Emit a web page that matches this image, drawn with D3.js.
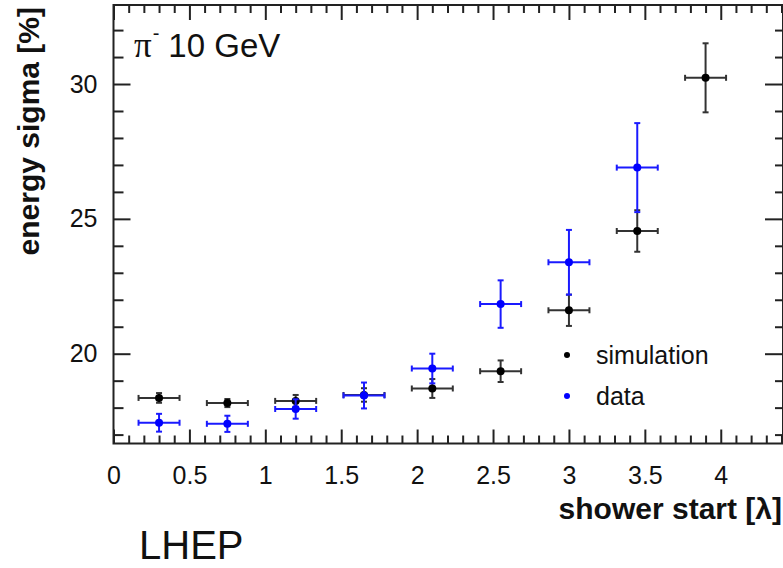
<!DOCTYPE html>
<html>
<head>
<meta charset="utf-8">
<script src="https://cdn.jsdelivr.net/npm/d3@7"></script>
<style>
html, body { margin: 0; padding: 0; background: #fff; }
svg { display: block; }
text { font-family: "Liberation Sans", Arial, Helvetica, sans-serif; }
</style>
</head>
<body>
<svg id="chart" width="783" height="568"></svg>
<script>
// ---- data ----
const showerStart = [0.3, 0.75, 1.2, 1.65, 2.1, 2.55, 3.0, 3.45, 3.9];
const binHalfWidth = [0.135, 0.135, 0.135, 0.135, 0.135, 0.135, 0.135, 0.135, 0.135];
const simSigma = [18.36, 18.17, 18.25, 18.47, 18.71, 19.35, 21.61, 24.55, 30.23];
const simErr   = [0.18, 0.15, 0.22, 0.25, 0.35, 0.40, 0.58, 0.77, 1.28];
const dataSigma = [17.44, 17.40, 17.95, 18.45, 19.45, 21.84, 23.39, 26.90];
const dataErr   = [0.33, 0.30, 0.36, 0.48, 0.55, 0.88, 1.20, 1.65];
const xTickLabels = ["0", "0.5", "1", "1.5", "2", "2.5", "3", "3.5", "4"];
const yTickLabels = ["20", "25", "30"];
const legendLabels = ["simulation", "data"];

// ---- layout ----
const svg = d3.select("#chart");
const L = 113.5, R = 783, T = 5, B = 443.5;
const x = d3.scaleLinear().domain([0, 4.41]).range([L, R]);
const y = d3.scaleLinear().domain([16.67, 32.93]).range([B, T]);
const frameColor = "#222";

const xMajor = xTickLabels.map(Number);
const xMinor = d3.range(0, 4.41, 0.1).map(v => +v.toFixed(2)).filter(v => Math.abs(v * 2 - Math.round(v * 2)) > 1e-6);
const yMajor = yTickLabels.map(Number);
const yMinor = d3.range(17, 33, 1).filter(v => !yMajor.includes(v));

function addAxis(axisGen, transform) {
  const g = svg.append("g").attr("transform", transform).call(axisGen);
  g.select(".domain").remove();
  g.selectAll("line").attr("stroke", frameColor).attr("stroke-width", 2);
  return g;
}
addAxis(d3.axisTop(x).tickValues(xMajor).tickSize(14).tickFormat(""), `translate(0,${B})`);
addAxis(d3.axisTop(x).tickValues(xMinor).tickSize(8).tickFormat(""), `translate(0,${B})`);
addAxis(d3.axisBottom(x).tickValues(xMajor).tickSize(15).tickFormat(""), `translate(0,${T})`);
addAxis(d3.axisBottom(x).tickValues(xMinor).tickSize(8).tickFormat(""), `translate(0,${T})`);
addAxis(d3.axisRight(y).tickValues(yMajor).tickSize(17).tickFormat(""), `translate(${L},0)`);
addAxis(d3.axisRight(y).tickValues(yMinor).tickSize(10).tickFormat(""), `translate(${L},0)`);
addAxis(d3.axisLeft(y).tickValues(yMajor).tickSize(18).tickFormat(""), `translate(${R},0)`);
addAxis(d3.axisLeft(y).tickValues(yMinor).tickSize(8).tickFormat(""), `translate(${R},0)`);

svg.append("rect").attr("x", L).attr("y", T).attr("width", R - L).attr("height", B - T)
  .attr("fill", "none").attr("stroke", frameColor).attr("stroke-width", 2);

// tick labels
const labelSize = 25;
const xl = d3.axisBottom(x).tickValues(xMajor).tickSize(0).tickFormat((d, i) => xTickLabels[i]).tickPadding(23);
const gx = svg.append("g").attr("transform", `translate(0,${B})`).call(xl);
gx.select(".domain").remove();
gx.selectAll("text").attr("font-size", labelSize).attr("font-family", "Liberation Sans, Arial, sans-serif").attr("fill", "#111");
const yl = d3.axisLeft(y).tickValues(yMajor).tickSize(0).tickFormat((d, i) => yTickLabels[i]).tickPadding(16);
const gy = svg.append("g").attr("transform", `translate(${L},0)`).call(yl);
gy.select(".domain").remove();
gy.selectAll("text").attr("font-size", labelSize).attr("font-family", "Liberation Sans, Arial, sans-serif").attr("fill", "#111");

// axis titles
svg.append("text").attr("x", 782).attr("y", 519).attr("text-anchor", "end")
  .attr("font-size", 30).attr("font-weight", "bold").attr("fill", "#111").text("shower start [λ]");
svg.append("text").attr("transform", `translate(39,${T + 2}) rotate(-90)`).attr("text-anchor", "end")
  .attr("font-size", 30).attr("font-weight", "bold").attr("fill", "#111").text("energy sigma [%]");

// error-bar series
function drawSeries(xs, ys, ex, ey, color, lineColor) {
  const g = svg.append("g");
  const cap = 3;
  ys.forEach((v, i) => {
    const cx = x(xs[i]), cy = y(v);
    const x0 = x(xs[i] - ex[i]), x1 = x(xs[i] + ex[i]);
    const y0 = y(v - ey[i]), y1 = y(v + ey[i]);
    const line = (a, b, c, d) => g.append("line").attr("x1", a).attr("y1", b).attr("x2", c).attr("y2", d)
      .attr("stroke", lineColor).attr("stroke-width", 2);
    line(x0, cy, x1, cy);
    line(cx, y0, cx, y1);
    line(x0, cy - cap, x0, cy + cap);
    line(x1, cy - cap, x1, cy + cap);
    line(cx - cap, y0, cx + cap, y0);
    line(cx - cap, y1, cx + cap, y1);
    g.append("circle").attr("cx", cx).attr("cy", cy).attr("r", 4).attr("fill", color);
  });
}
drawSeries(showerStart, simSigma, binHalfWidth, simErr, "#000", "#333");
drawSeries(showerStart.slice(0, dataSigma.length), dataSigma, binHalfWidth, dataErr, "#0000ff", "#1a1aff");

// legend
const legColors = ["#000", "#0000ff"];
legendLabels.forEach((lab, i) => {
  const ly = 355 + i * 41;
  svg.append("circle").attr("cx", 567).attr("cy", ly).attr("r", 3).attr("fill", legColors[i]);
  svg.append("text").attr("x", 596).attr("y", ly + 9).attr("font-size", 25).attr("fill", "#111").text(lab);
});

// title
const t = svg.append("text").attr("x", 134).attr("y", 57).attr("font-size", 33).attr("fill", "#111");
t.append("tspan").attr("font-family", "Liberation Serif, Times New Roman, serif").attr("font-size", 35).text("π");
t.append("tspan").attr("font-size", 20).attr("dy", -17).attr("dx", 1).text("-");
t.append("tspan").attr("dy", 17).attr("dx", 9).text("10 GeV");

// watermark
svg.append("text").attr("x", 139).attr("y", 559).attr("font-size", 40).attr("fill", "#111").text("LHEP");
</script>
</body>
</html>
